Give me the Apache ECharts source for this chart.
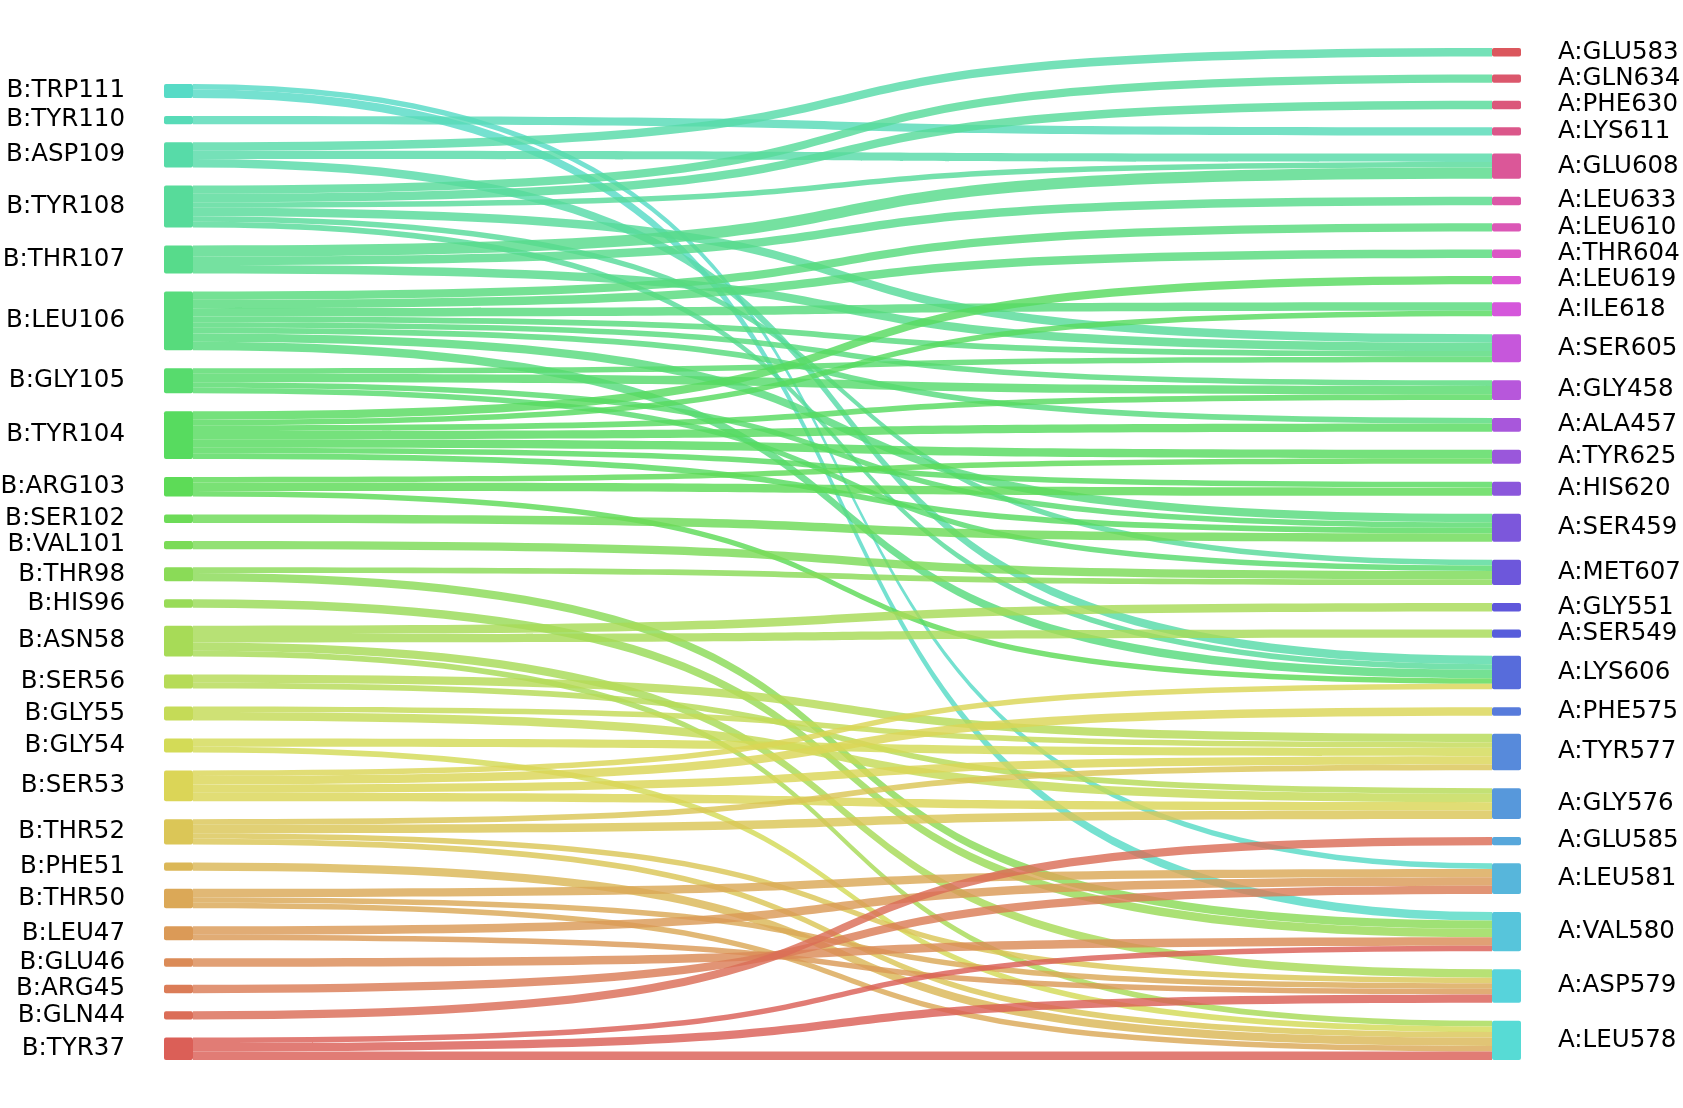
<!DOCTYPE html>
<html>
<head>
<meta charset="utf-8">
<script src="https://cdn.jsdelivr.net/npm/echarts@6/dist/echarts.min.js"></script>
<style>
html,body{margin:0;padding:0;background:#ffffff;}
#chart{width:1683px;height:1108px;}
</style>
</head>
<body>
<div id="chart"></div>
<script>
// Left column (chain B), top to bottom
const leftNodes = ['B:TRP111','B:TYR110','B:ASP109','B:TYR108','B:THR107','B:LEU106','B:GLY105','B:TYR104',
  'B:ARG103','B:SER102','B:VAL101','B:THR98','B:HIS96','B:ASN58','B:SER56','B:GLY55','B:GLY54','B:SER53',
  'B:THR52','B:PHE51','B:THR50','B:LEU47','B:GLU46','B:ARG45','B:GLN44','B:TYR37'];
// Right column (chain A), top to bottom
const rightNodes = ['A:GLU583','A:GLN634','A:PHE630','A:LYS611','A:GLU608','A:LEU633','A:LEU610','A:THR604',
  'A:LEU619','A:ILE618','A:SER605','A:GLY458','A:ALA457','A:TYR625','A:HIS620','A:SER459','A:MET607',
  'A:GLY551','A:SER549','A:LYS606','A:PHE575','A:TYR577','A:GLY576','A:GLU585','A:LEU581','A:VAL580',
  'A:ASP579','A:LEU578'];
// Contacts: [source, target, weight]
const links = [
  ['B:TRP111','A:LEU581',2],['B:TRP111','A:VAL580',3],
  ['B:TYR110','A:LYS611',3],
  ['B:ASP109','A:GLU583',3],['B:ASP109','A:GLU608',3],['B:ASP109','A:LYS606',3],
  ['B:TYR108','A:GLN634',3],['B:TYR108','A:PHE630',3],['B:TYR108','A:GLU608',2],['B:TYR108','A:SER605',3],
  ['B:TYR108','A:MET607',2],['B:TYR108','A:LYS606',2],
  ['B:THR107','A:GLU608',4],['B:THR107','A:LEU633',3],['B:THR107','A:SER605',3],
  ['B:LEU106','A:LEU610',3],['B:LEU106','A:THR604',3],['B:LEU106','A:ILE618',3],['B:LEU106','A:SER605',2],
  ['B:LEU106','A:GLY458',2],['B:LEU106','A:ALA457',2],['B:LEU106','A:SER459',3],['B:LEU106','A:LYS606',3],
  ['B:GLY105','A:SER605',2],['B:GLY105','A:GLY458',3],['B:GLY105','A:SER459',2],['B:GLY105','A:MET607',2],
  ['B:TYR104','A:LEU619',3],['B:TYR104','A:ILE618',2],['B:TYR104','A:GLY458',2],['B:TYR104','A:ALA457',3],
  ['B:TYR104','A:TYR625',3],['B:TYR104','A:HIS620',2],['B:TYR104','A:SER459',2],
  ['B:ARG103','A:TYR625',2],['B:ARG103','A:HIS620',3],['B:ARG103','A:LYS606',2],
  ['B:SER102','A:SER459',3],
  ['B:VAL101','A:MET607',3],
  ['B:THR98','A:MET607',2],['B:THR98','A:VAL580',3],
  ['B:HIS96','A:VAL580',3],
  ['B:ASN58','A:GLY551',3],['B:ASN58','A:SER549',3],['B:ASN58','A:ASP579',3],['B:ASN58','A:LEU578',2],
  ['B:SER56','A:TYR577',3],['B:SER56','A:GLY576',2],
  ['B:GLY55','A:TYR577',2],['B:GLY55','A:GLY576',3],
  ['B:GLY54','A:TYR577',3],['B:GLY54','A:LEU578',2],
  ['B:SER53','A:LYS606',2],['B:SER53','A:PHE575',3],['B:SER53','A:TYR577',3],['B:SER53','A:GLY576',3],
  ['B:THR52','A:TYR577',2],['B:THR52','A:GLY576',3],['B:THR52','A:ASP579',2],['B:THR52','A:LEU578',2],
  ['B:PHE51','A:LEU578',3],
  ['B:THR50','A:LEU581',3],['B:THR50','A:ASP579',2],['B:THR50','A:LEU578',2],
  ['B:LEU47','A:LEU581',3],['B:LEU47','A:ASP579',2],
  ['B:GLU46','A:VAL580',3],
  ['B:ARG45','A:LEU581',3],
  ['B:GLN44','A:GLU585',3],
  ['B:TYR37','A:VAL580',2],['B:TYR37','A:ASP579',3],['B:TYR37','A:LEU578',3]
];

// ---- styling / layout helpers ----
const W = 1683, H = 1108;
const padTop = 48, padBottom = 48;
const nodeGap = 18;
const nPal = leftNodes.length + rightNodes.length;

function hslToHex(h, s, l) {
  const a = s * Math.min(l, 1 - l);
  const f = n => {
    const k = (n + h / 30) % 12;
    const c = l - a * Math.max(-1, Math.min(k - 3, 9 - k, 1));
    return Math.round(255 * c).toString(16).padStart(2, '0');
  };
  return '#' + f(0) + f(8) + f(4);
}
function paletteColor(i) {
  const h = ((i / nPal + 0.01) % 1) * 360;
  return hslToHex(h, 0.65, 0.6);
}

const nodes = [];
// invisible spacer so the shorter left column sits at the bottom like the right one
const total = links.reduce((s, l) => s + l[2], 0);
const innerH = H - padTop - padBottom;
const spacerValue = 0.995 * nodeGap * total / (innerH - (rightNodes.length - 1) * nodeGap);
nodes.push({
  name: '__spacer__', value: spacerValue, depth: 0,
  itemStyle: { color: 'rgba(0,0,0,0)', opacity: 0 },
  label: { show: false }, silent: true
});
leftNodes.forEach((n, i) => {
  nodes.push({ name: n, depth: 0, itemStyle: { color: paletteColor(leftNodes.length - 1 - i) } });
});
rightNodes.forEach((n, j) => {
  nodes.push({ name: n, depth: 1, itemStyle: { color: paletteColor(leftNodes.length + rightNodes.length - 1 - j) } });
});

const chart = echarts.init(document.getElementById('chart'), null, { renderer: 'canvas', width: W, height: H });
chart.setOption({
  animation: false,
  backgroundColor: '#ffffff',
  series: [{
    type: 'sankey',
    left: 164, right: 162, top: padTop, bottom: padBottom,
    nodeWidth: 29,
    nodeGap: nodeGap,
    layoutIterations: 0,
    nodeAlign: 'justify',
    draggable: false,
    emphasis: { disabled: true },
    data: nodes,
    links: links.map(l => ({ source: l[0], target: l[1], value: l[2] })),
    itemStyle: { borderWidth: 0, borderRadius: 2 },
    lineStyle: { color: 'source', opacity: 0.82, curveness: 0.7 },
    label: { fontFamily: 'DejaVu Sans', fontSize: 24.5, color: '#000000' },
    levels: [
      { depth: 0, label: { position: 'left', distance: 39 } },
      { depth: 1, label: { position: 'right', distance: 37 } }
    ]
  }]
});
</script>
</body>
</html>
